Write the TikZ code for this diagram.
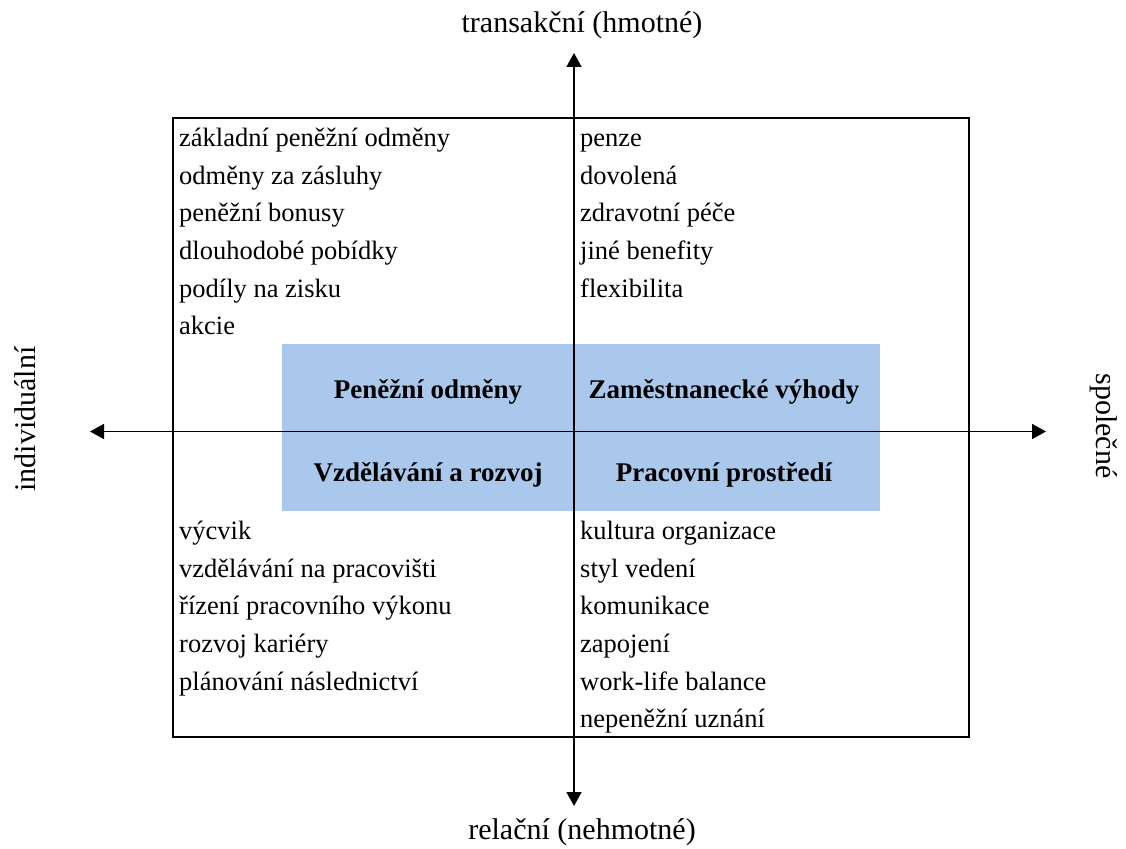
\documentclass[tikz,border=0pt]{standalone}
\usepackage{fontspec}
\setmainfont{Liberation Serif}
\usetikzlibrary{arrows.meta}
\definecolor{quadblue}{RGB}{169,200,236}
\begin{document}
\begin{tikzpicture}[x=1pt,y=-1pt,
  item/.style={anchor=base west,inner sep=0pt,font=\fontsize{26.5}{30}\selectfont},
  head/.style={anchor=base,inner sep=0pt,font=\fontsize{27}{30}\selectfont\bfseries},
  axislabel/.style={anchor=base,inner sep=0pt,font=\fontsize{30}{34}\selectfont},
  axis/.style={line width=1.7pt,-{Triangle[length=14pt,width=15pt]}}]
\useasboundingbox (0,0) rectangle (1126,848);
% frame and shaded centre block
\draw[line width=1.7pt] (173,118) rectangle (969,737);
\fill[quadblue] (282,344) rectangle (880,511);
% axes
\coordinate (c) at (574,431.5);
\coordinate (top) at (574,53);
\coordinate (bottom) at (574,806);
\coordinate (left) at (90,431.5);
\coordinate (right) at (1046,431.5);
\draw[axis] (c) -- (top);
\draw[axis] (c) -- (bottom);
\draw[axis] (c) -- (left);
\draw[axis] (c) -- (right);
% axis labels
\node[axislabel] (ltop) at (582,33) {transakční (hmotné)};
\node[axislabel] (lbot) at (582,839) {relační (nehmotné)};
\node[axislabel,rotate=90] (lleft) at (35,419) {individuální};
\node[axislabel,rotate=-90] (lright) at (1096,426) {společné};
% quadrant headings
\node[head] (h1) at (428,398) {Peněžní odměny};
\node[head] (h2) at (724,398) {Zaměstnanecké výhody};
\node[head] (h3) at (428,481) {Vzdělávání a rozvoj};
\node[head] (h4) at (724,481) {Pracovní prostředí};
% upper left items
\node[item] (a1) at (179,146.5) {základní peněžní odměny};
\node[item] (a2) at (179,184.5) {odměny za zásluhy};
\node[item] (a3) at (179,221.5) {peněžní bonusy};
\node[item] (a4) at (179,259.5) {dlouhodobé pobídky};
\node[item] (a5) at (179,297.5) {podíly na zisku};
\node[item] (a6) at (179,334.5) {akcie};
% upper right items
\node[item] (b1) at (580,146.5) {penze};
\node[item] (b2) at (580,184.5) {dovolená};
\node[item] (b3) at (580,221.5) {zdravotní péče};
\node[item] (b4) at (580,259.5) {jiné benefity};
\node[item] (b5) at (580,297.5) {flexibilita};
% lower left items
\node[item] (c1) at (179,539.5) {výcvik};
\node[item] (c2) at (179,577.5) {vzdělávání na pracovišti};
\node[item] (c3) at (179,614.5) {řízení pracovního výkonu};
\node[item] (c4) at (179,652.5) {rozvoj kariéry};
\node[item] (c5) at (179,690.5) {plánování následnictví};
% lower right items
\node[item] (d1) at (580,539.5) {kultura organizace};
\node[item] (d2) at (580,577.5) {styl vedení};
\node[item] (d3) at (580,614.5) {komunikace};
\node[item] (d4) at (580,652.5) {zapojení};
\node[item] (d5) at (580,690.5) {work-life balance};
\node[item] (d6) at (580,727.5) {nepeněžní uznání};
\end{tikzpicture}
\end{document}
